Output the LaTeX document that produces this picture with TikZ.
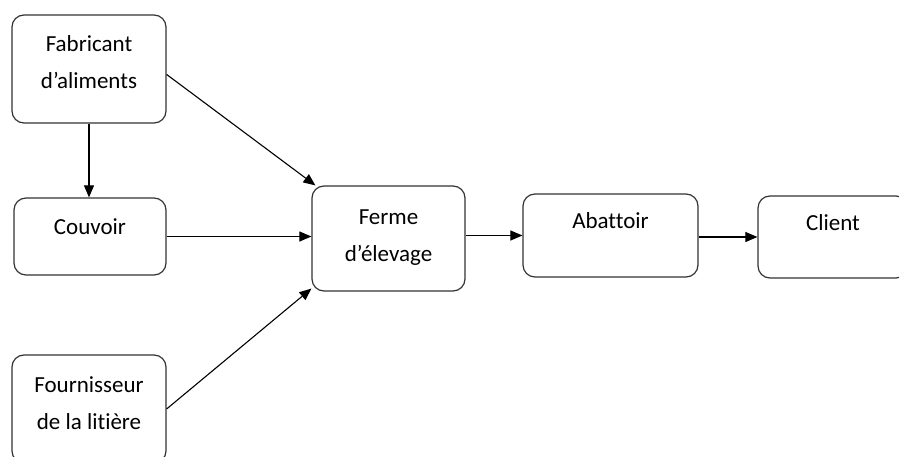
\documentclass[tikz,border=0pt]{standalone}
\usepackage{fontspec}
\setmainfont{Carlito}[Ligatures=NoCommon]
\usetikzlibrary{arrows.meta}

\begin{document}
\begin{tikzpicture}[x=1pt,y=-1pt,
    box/.style={draw=black!80,line width=1.2pt,rounded corners=12pt,align=center,
      font=\fontsize{23}{37}\selectfont,inner sep=0pt},
    flow/.style={-{Triangle[length=12pt,width=10pt]},line width=1.1pt}]
    \useasboundingbox (0,0) rectangle (899,457);
    \clip (0,0) rectangle (899,457);
    % suppliers on the left
    \node[box,minimum width=154pt,minimum height=108pt,text height=52pt,text depth=12pt] (fab) at (89,69) {Fabricant\\d’aliments};
    \node[box,minimum width=152pt,minimum height=77pt,text height=15pt,text depth=20pt] (couv) at (90,236.5) {Couvoir};
    \node[box,minimum width=154pt,minimum height=108pt,text height=52pt,text depth=12pt] (four) at (89,409) {Fournisseur\\de la litière};
    % chain
    \node[box,minimum width=153pt,minimum height=105pt,text height=52pt,text depth=7pt] (ferme) at (388.5,238.5) {Ferme\\d’élevage};
    \node[box,minimum width=175pt,minimum height=83pt,text height=15pt,text depth=28pt] (abat) at (610.5,235.5) {Abattoir};
    \node[box,minimum width=150pt,minimum height=82pt,text height=15pt,text depth=28pt] (client) at (833,237) {Client};
    % arrows
    \draw[flow] (fab.south) -- (fab.south |- couv.north);
    \draw[flow] (fab.-4) -- (ferme.144);
    \draw[flow] (couv.east) -- (couv.east -| ferme.west);
    \draw[flow] (four.east) -- (ferme.213);
    \draw[flow] (abat.west -| ferme.east) -- (abat.west);
    \draw[flow] (client.west -| abat.east) -- (client.west);
\end{tikzpicture}
\end{document}
